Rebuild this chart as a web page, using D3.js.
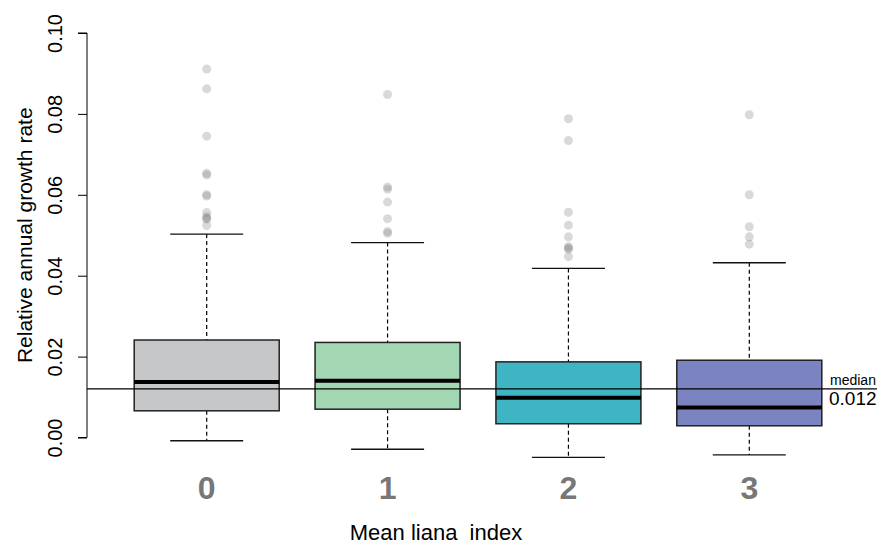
<!DOCTYPE html>
<html><head><meta charset="utf-8">
<script src="https://cdn.jsdelivr.net/npm/d3@7"></script>
<style>body{margin:0;background:#fff}svg{display:block;font-family:"Liberation Sans",Arial,Helvetica,sans-serif}</style>
</head><body><svg id="c" width="877" height="550"></svg>
<script>
const categories = ["0","1","2","3"];
const q1 = [0.0066, 0.0070, 0.0034, 0.0029];
const medians = [0.0137, 0.0140, 0.0098, 0.0074];
const q3 = [0.0241, 0.0235, 0.0187, 0.0191];
const whiskerLow = [-0.0008, -0.0029, -0.0049, -0.0043];
const whiskerHigh = [0.0503, 0.0482, 0.0418, 0.0432];
const outliers = [
  [0.0911, 0.0862, 0.0745, 0.0653, 0.0649, 0.0600, 0.0597, 0.0556, 0.0546, 0.0542, 0.0540, 0.0524],
  [0.0848, 0.0619, 0.0614, 0.0582, 0.0541, 0.0509, 0.0505],
  [0.0788, 0.0734, 0.0557, 0.0525, 0.0496, 0.0472, 0.0468, 0.0466, 0.0447],
  [0.0798, 0.0600, 0.0521, 0.0496, 0.0478]
];
const fills = ["#c6c7c9", "#a3d6b2", "#3fb5c4", "#7b84c1"];
const yTicks = [0, 0.02, 0.04, 0.06, 0.08, 0.10];
const overallMedian = 0.012;

const svg = d3.select("#c");
const y = d3.scaleLinear().domain([0, 0.1]).range([437.5, 33]);
const x = d3.scalePoint().domain(categories).range([206.7, 749.3]);
const boxW = 145, capW = 73;

// y axis
const yAxis = d3.axisLeft(y).tickValues(yTicks).tickSize(9).tickFormat(d3.format(".2f"));
const gy = svg.append("g").attr("transform", "translate(87,0)").call(yAxis);
gy.select(".domain").attr("stroke", "#000").attr("d", `M-9,${y(0)}H0V${y(0.1)}H-9`);
gy.selectAll(".tick line").attr("stroke", "#000");
gy.selectAll(".tick text").attr("fill", "#000").attr("font-size", 20)
  .attr("x", null).attr("dy", null)
  .attr("transform", "translate(-25,0) rotate(-90)").attr("text-anchor","middle").attr("y", 0);

svg.append("text").attr("transform", `translate(32,${(y(0)+y(0.1))/2}) rotate(-90)`)
  .attr("text-anchor", "middle").attr("font-size", 21).text("Relative annual growth rate");

// boxes
const g = svg.append("g");
categories.forEach((c, i) => {
  const cx = x(c);
  g.append("line").attr("x1", cx).attr("x2", cx).attr("y1", y(whiskerHigh[i])).attr("y2", y(q3[i]))
    .attr("stroke", "#000").attr("stroke-width", 1.2).attr("stroke-dasharray", "4,3");
  g.append("line").attr("x1", cx).attr("x2", cx).attr("y1", y(q1[i])).attr("y2", y(whiskerLow[i]))
    .attr("stroke", "#000").attr("stroke-width", 1.2).attr("stroke-dasharray", "4,3");
  [whiskerHigh[i], whiskerLow[i]].forEach(v => {
    g.append("line").attr("x1", cx - capW/2).attr("x2", cx + capW/2).attr("y1", y(v)).attr("y2", y(v))
      .attr("stroke", "#111").attr("stroke-width", 1.3);
  });
  g.append("rect").attr("x", cx - boxW/2).attr("width", boxW).attr("y", y(q3[i])).attr("height", y(q1[i]) - y(q3[i]))
    .attr("fill", fills[i]).attr("stroke", "#222").attr("stroke-width", 1.5);
  g.append("line").attr("x1", cx - boxW/2).attr("x2", cx + boxW/2).attr("y1", y(medians[i])).attr("y2", y(medians[i]))
    .attr("stroke", "#000").attr("stroke-width", 4);
  g.selectAll(null).data(outliers[i]).enter().append("circle")
    .attr("cx", cx).attr("cy", d => y(d)).attr("r", 4.5).attr("fill", "#7c7c7c").attr("fill-opacity", 0.29);
});

// overall median line
svg.append("line").attr("x1", 87).attr("x2", 877).attr("y1", y(overallMedian)).attr("y2", y(overallMedian))
  .attr("stroke", "#000").attr("stroke-width", 1.2);
svg.append("text").attr("x", 830).attr("y", 385).attr("font-size", 14).text("median");
svg.append("text").attr("x", 829).attr("y", 405).attr("font-size", 19).text(String(overallMedian));

// x labels
svg.selectAll(".xl").data(categories).enter().append("text").attr("class", "xl")
  .attr("x", d => x(d)).attr("y", 499).attr("text-anchor", "middle")
  .attr("font-size", 32).attr("font-weight", "bold").attr("fill", "#777").text(d => d);
svg.append("text").attr("x", 436).attr("y", 540).attr("text-anchor", "middle").attr("font-size", 22)
  .style("white-space", "pre").text("Mean liana  index");
</script></body></html>
